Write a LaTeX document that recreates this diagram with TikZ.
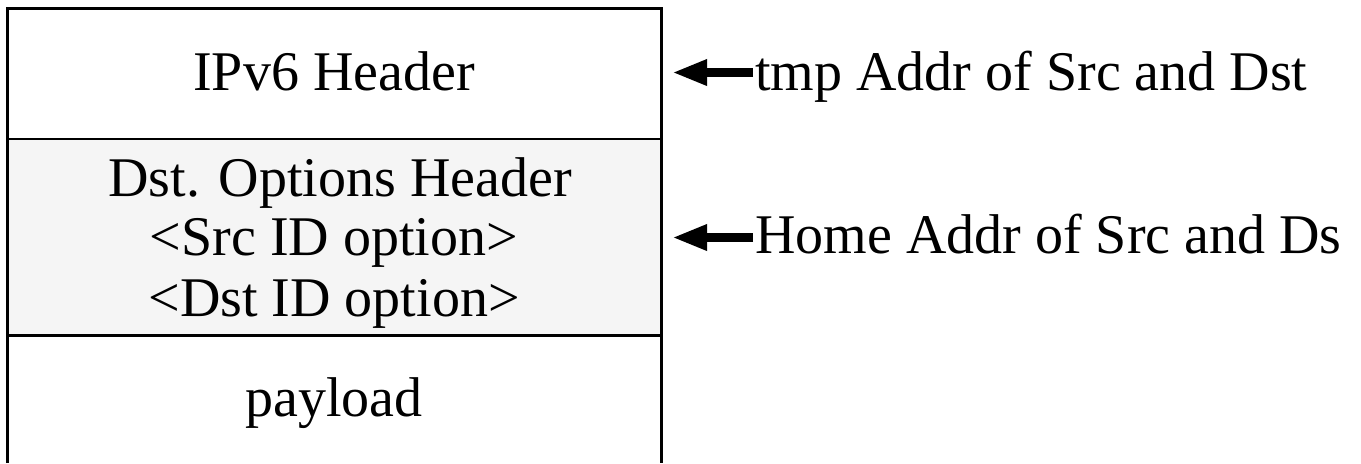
\documentclass[tikz,border=0pt]{standalone}
\usepackage{fontspec}
\setmainfont{Liberation Serif}
\usetikzlibrary{arrows.meta}
\begin{document}
\begin{tikzpicture}[x=0.5pt,y=-0.5pt,
  lbl/.style={inner sep=0pt, font=\fontsize{28pt}{30pt}\selectfont},
  outer/.style={line width=1.6pt},
  thin divider/.style={line width=0.8pt},
  thick divider/.style={line width=1.5pt},
  ptr/.style={line width=4.8pt, -{Triangle[length=17.5pt 0 0,width=12pt 0 0]}}]
\useasboundingbox (0,0) rectangle (1361,463);
% shaded middle section
\fill[gray!8] (7.5,139) rectangle (661.5,335.5);
% frame
\draw[outer] (7.5,463) -- (7.5,8.5) -- (661.5,8.5) -- (661.5,463);
\draw[thin divider] (7.5,139) -- (661.5,139);
\draw[thick divider] (7.5,335.5) -- (661.5,335.5);
% box texts
\node[lbl, anchor=base] (ipv6) at (334,90) {IPv6 Header};
\node[lbl, anchor=base] (dsth) at (340,196) {Dst. Options Header};
\node[lbl, anchor=base] (srcid) at (334,255) {<Src ID option>};
\node[lbl, anchor=base] (dstid) at (334,316) {<Dst ID option>};
\node[lbl, anchor=base] (pay) at (334,416) {payload};
% side labels
\node[lbl, anchor=base west] (tmp) at (755,90) {tmp Addr of Src and Dst};
\node[lbl, anchor=base west] (home) at (755,253) {Home Addr of Src and Ds};
% arrows
\coordinate (s1) at (753,72.5);
\coordinate (t1) at (672,72.5);
\coordinate (s2) at (753,237.5);
\coordinate (t2) at (672,237.5);
\draw[ptr] (s1) -- (t1);
\draw[ptr] (s2) -- (t2);
\end{tikzpicture}
\end{document}
